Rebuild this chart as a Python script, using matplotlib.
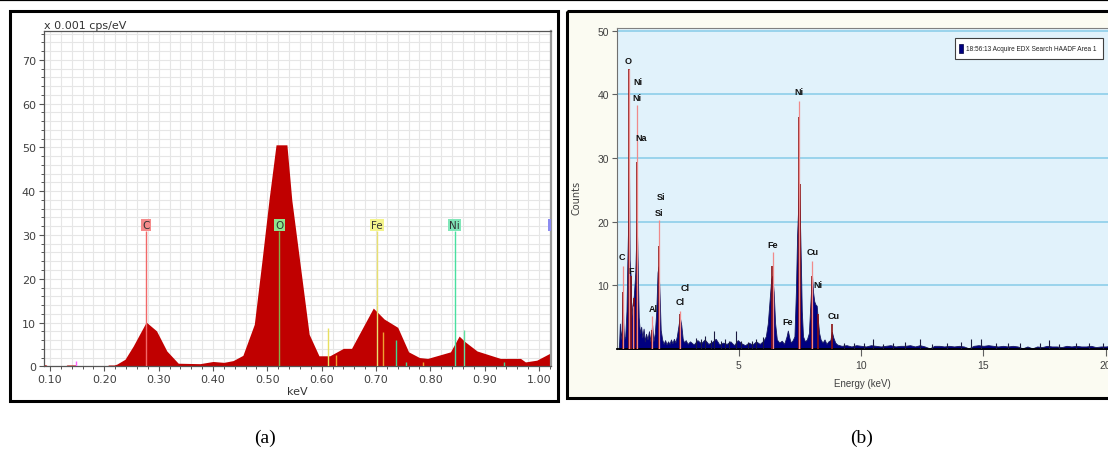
import matplotlib
matplotlib.use("Agg")
import matplotlib.pyplot as plt
from matplotlib.patches import Rectangle
from matplotlib.ticker import MultipleLocator

# ---------------- panel (a): low energy spectrum, x 0.001 cps/eV
a_kev = [0.088, 0.093, 0.096, 0.128, 0.131, 0.147, 0.150, 0.203, 0.208, 0.218,
         0.223, 0.238, 0.253, 0.277, 0.296, 0.315, 0.336, 0.376, 0.400, 0.420,
         0.437, 0.455, 0.476, 0.490, 0.503, 0.516, 0.536, 0.545, 0.577, 0.595,
         0.615, 0.640, 0.655, 0.695, 0.715, 0.740, 0.760, 0.780, 0.795, 0.837,
         0.853, 0.864, 0.886, 0.929, 0.966, 0.975, 0.996, 1.022]
a_cps = [0.4, 0.3, 0.0, 0.0, 0.3, 0.3, 0.0, 0.0, 0.3, 0.3,
         0.5, 1.6, 4.6, 10.1, 8.1, 3.5, 0.7, 0.6, 1.1, 0.9,
         1.3, 2.5, 9.6, 24.0, 38.0, 50.6, 50.6, 38.0, 7.3, 2.4,
         2.4, 4.1, 4.1, 13.3, 10.8, 8.9, 3.3, 2.0, 1.8, 3.3,
         6.9, 5.6, 3.5, 1.8, 1.8, 1.0, 1.4, 3.1]

a_elements = ["C", "O", "Fe", "Ni"]
a_element_kev = [0.277, 0.522, 0.702, 0.845]
a_box_colors = ["#f58a8a", "#8ee68e", "#f4f48c", "#80e6b8"]
a_line_colors = ["#f26868", "#86b04a", "#e8e070", "#48e0a0"]
a_label_cps = 31.0

a_minor_kev = [0.148, 0.612, 0.626, 0.713, 0.737, 0.755, 0.787, 0.862, 0.936]
a_minor_cps = [1.1, 8.7, 2.5, 7.8, 6.0, 1.0, 1.0, 8.3, 1.0]
a_minor_colors = ["#ff60ff", "#e8e060", "#f0a030", "#f0a030", "#40d890",
                  "#40d890", "#f0a030", "#60e0a0", "#40d890"]

a_xticks = [0.10, 0.20, 0.30, 0.40, 0.50, 0.60, 0.70, 0.80, 0.90, 1.00]
a_yticks = [0, 10, 20, 30, 40, 50, 60, 70]

# ---------------- panel (b): full EDX spectrum, counts
b_kev = [0.08, 0.10, 0.13, 0.16, 0.20, 0.245, 0.27, 0.30, 0.35, 0.40,
         0.43, 0.47, 0.50, 0.53, 0.57, 0.60, 0.64, 0.70, 0.76, 0.82,
         0.86, 0.90, 0.95, 1.00, 1.05, 1.10, 1.15, 1.20, 1.26, 1.32,
         1.38, 1.45, 1.50, 1.56, 1.62, 1.67, 1.71, 1.75, 1.80, 1.86,
         1.92, 1.98, 2.04, 2.10, 2.16, 2.22, 2.28, 2.34, 2.40, 2.46,
         2.52, 2.58, 2.64, 2.70, 2.76, 2.82, 2.90,
         3.00, 3.15, 3.30, 3.45, 3.60, 3.75, 3.90, 4.05, 4.20, 4.35,
         4.50, 4.65, 4.80, 4.95, 5.10, 5.25, 5.40, 5.55, 5.70, 5.85,
         6.00, 6.10, 6.18, 6.26, 6.32, 6.36, 6.42, 6.48, 6.55, 6.65,
         6.75, 6.85, 6.95, 7.00, 7.06, 7.12, 7.20, 7.27, 7.33, 7.38,
         7.42, 7.45, 7.49, 7.53, 7.57, 7.62, 7.70, 7.78, 7.86, 7.92,
         7.96, 7.99, 8.03, 8.08, 8.13, 8.18, 8.23, 8.28, 8.34, 8.42,
         8.50, 8.58, 8.66, 8.74, 8.80, 8.86, 8.94, 9.02,
         9.2, 9.4, 9.6, 9.8, 10.0, 10.2, 10.4, 10.6, 10.8, 11.0,
         11.2, 11.4, 11.6, 11.8, 12.0, 12.2, 12.4, 12.6, 12.8, 13.0,
         13.2, 13.4, 13.6, 13.8, 14.0, 14.2, 14.4, 14.6, 14.8, 15.0,
         15.2, 15.4, 15.6, 15.8, 16.0, 16.2, 16.4, 16.6, 16.8, 17.0,
         17.2, 17.4, 17.6, 17.8, 18.0, 18.2, 18.4, 18.6, 18.8, 19.0,
         19.2, 19.4, 19.6, 19.8, 20.0, 20.2, 20.5]
b_counts = [0.0, 1.0, 4.0, 1.5, 3.0, 9.0, 4.0, 1.5, 2.0, 6.0,
            12.6, 20.0, 31.0, 14.0, 11.5, 5.0, 6.8, 8.4, 12.0, 20.4,
            13.0, 5.0, 2.5, 3.5, 1.8, 3.2, 1.2, 2.4, 1.5, 2.8,
            1.2, 3.8, 1.2, 2.5, 6.0, 12.0, 13.0, 9.0, 3.0, 1.5,
            0.8, 1.4, 0.7, 1.2, 0.8, 1.5, 0.9, 1.6, 1.0, 2.0,
            3.5, 5.0, 3.8, 1.6, 1.0, 1.4, 0.8,
            1.2, 0.7, 1.4, 0.9, 1.5, 0.8, 1.1, 1.6, 0.7, 1.0,
            0.8, 1.2, 0.6, 1.4, 0.9, 0.6, 1.0, 0.7, 1.2, 0.8,
            1.3, 2.0, 4.0, 8.0, 11.0, 11.5, 9.0, 4.0, 1.5, 1.0,
            1.3, 0.8, 2.0, 2.9, 1.8, 1.0, 1.4, 2.0, 9.0, 18.0,
            22.0, 26.3, 21.0, 14.0, 6.0, 2.0, 1.2, 1.5, 2.5, 7.0,
            10.0, 11.5, 9.0, 7.5, 7.0, 6.8, 4.5, 2.5, 1.5, 1.0,
            1.5, 0.8, 1.2, 1.4, 2.7, 1.8, 1.0, 0.7,
            0.5, 0.6, 0.4, 0.6, 0.5, 0.4, 0.6, 0.5, 0.4, 0.5,
            0.6, 0.4, 0.5, 0.5, 0.6, 0.4, 0.6, 0.4, 0.1, 0.5,
            0.5, 0.4, 0.5, 0.4, 0.5, 0.4, 0.1, 0.5, 0.6, 0.5,
            0.6, 0.5, 0.4, 0.5, 0.4, 0.5, 0.4, 0.1, 0.4, 0.1,
            0.4, 0.3, 0.5, 0.4, 0.4, 0.3, 0.5, 0.4, 0.5, 0.4,
            0.4, 0.5, 0.3, 0.4, 0.4, 0.5, 0.4]

# noise spikes on the background
b_spike_kev = [3.26, 3.45, 3.60, 3.85, 4.00, 4.25, 4.45, 4.60, 4.90, 5.10,
               5.35, 5.55, 5.70, 5.97, 9.3, 9.7, 10.1, 10.5, 10.9, 11.3,
               11.8, 12.4, 12.9, 13.5, 14.1, 14.5, 14.9, 15.5, 16.0, 16.5,
               17.3, 17.7, 18.1, 18.8, 19.3, 19.9]
b_spike_counts = [1.8, 1.5, 2.0, 1.4, 2.9, 1.3, 1.6, 1.2, 2.9, 1.3,
                  1.1, 1.2, 1.6, 1.9, 1.0, 0.9, 1.0, 1.6, 0.8, 0.9,
                  1.1, 1.5, 0.8, 1.0, 1.1, 1.6, 1.5, 0.9, 1.0, 0.9,
                  1.0, 1.4, 0.8, 1.0, 0.9, 0.9]

# dark red channel lines
b_red_kev = [0.25, 0.50, 0.57, 0.70, 0.83, 1.45, 1.71, 2.58, 6.36, 7.44,
             7.50, 7.98, 8.25, 8.80]
b_red_counts = [9.0, 44.0, 11.5, 8.0, 29.4, 3.0, 16.2, 5.5, 13.1, 36.4,
                26.0, 11.5, 5.5, 3.9]

# pink element marker lines
b_mark_kev = [0.245, 0.50, 0.68, 0.82, 1.45, 1.71, 2.58, 6.39, 7.45, 7.98]
b_mark_counts = [13.1, 44.0, 6.8, 38.3, 5.2, 20.2, 6.0, 15.2, 39.0, 13.9]

b_labels = ["C", "O", "Ni", "Ni", "Na", "F", "Si", "Si", "Al", "Cl", "Cl",
            "Fe", "Fe", "Ni", "Cu", "Ni", "Cu"]
b_label_kev = [0.22, 0.46, 0.87, 0.83, 0.99, 0.58, 1.81, 1.73, 1.48, 2.79,
               2.58, 6.38, 6.99, 7.44, 8.00, 8.21, 8.87]
b_label_counts = [14.5, 45.3, 42.0, 39.5, 33.2, 12.4, 23.9, 21.5, 6.4, 9.7,
                  7.4, 16.4, 4.4, 40.4, 15.4, 10.2, 5.3]

b_xticks = [5, 10, 15, 20]
b_yticks = [10, 20, 30, 40, 50]
b_legend = "18:56:13 Acquire EDX Search HAADF Area 1"

SANS_B = ["Liberation Sans", "DejaVu Sans"]

fig = plt.figure(figsize=(11.08, 4.52), dpi=100)

# pixel-coordinate background and overlay layers
ax_bg = fig.add_axes([0, 0, 1, 1], zorder=0)
ax_bg.set_xlim(0, 1108)
ax_bg.set_ylim(452, 0)
ax_bg.axis("off")
ax_bg.add_patch(Rectangle((566, 12), 560, 387, fc="#fbfbf2", ec="none"))

ax_top = fig.add_axes([0, 0, 1, 1], zorder=10)
ax_top.set_xlim(0, 1108)
ax_top.set_ylim(452, 0)
ax_top.axis("off")
ax_top.patch.set_alpha(0)

# ---------------- panel (a)
ax_a = fig.add_axes([43.5 / 1108, 1 - 367.3 / 452, 507.5 / 1108, 335.3 / 452], zorder=2)
ax_a.set_xlim(0.088, 1.0221)
ax_a.set_ylim(0, 76.6)
ax_a.fill_between(a_kev, a_cps, 0, color="#c00000", lw=0, zorder=2)
ax_a.vlines(a_minor_kev, 0, a_minor_cps, colors=a_minor_colors, lw=1.0, zorder=3)
for name, kev, box, line in zip(a_elements, a_element_kev, a_box_colors, a_line_colors):
    ax_a.vlines(kev, 0, a_label_cps, colors=line, lw=1.0, zorder=3)
    ax_a.text(kev, a_label_cps + 1.3, name, ha="center", va="center", fontsize=7.5,
              color="#333333", zorder=4,
              bbox=dict(boxstyle="square,pad=0.12", fc=box, ec="none"))
# partly hidden label box at the right edge
ax_a.add_patch(Rectangle((1.0165, a_label_cps), 0.01, 2.7, fc="#8c8cf0", ec="none",
                         zorder=4, clip_on=True))

ax_a.set_xticks(a_xticks)
ax_a.set_xticklabels([f"{v:.2f}" for v in a_xticks])
ax_a.set_yticks(a_yticks)
ax_a.xaxis.set_minor_locator(MultipleLocator(0.02))
ax_a.yaxis.set_minor_locator(MultipleLocator(2))
ax_a.grid(which="both", color="#e6e6e6", lw=0.8, zorder=0)
ax_a.set_axisbelow(True)
ax_a.tick_params(which="major", length=3.5, width=0.8, color="#555555",
                 labelsize=8, labelcolor="#404040", pad=2)
ax_a.tick_params(which="minor", length=2, width=0.7, color="#555555")
for side in ["left", "bottom", "top"]:
    ax_a.spines[side].set_color("#555555")
    ax_a.spines[side].set_linewidth(0.9)
ax_a.spines["right"].set_color("#9a9a9a")
ax_a.spines["right"].set_linewidth(1.6)

ax_top.text(44, 26, "x 0.001 cps/eV", fontsize=8, color="#333333", va="center", ha="left")
ax_top.text(297, 392, "keV", fontsize=8, color="#333333", va="center", ha="center")

# ---------------- panel (b)
ax_b = fig.add_axes([616.7 / 1108, 1 - 350 / 452, 501.2 / 1108, 320.7 / 452], zorder=2)
ax_b.set_facecolor("#e1f2fb")
ax_b.set_xlim(0, 20.5)
ax_b.set_ylim(0, 50.4)
for y in b_yticks:
    ax_b.axhline(y, color="#86cbe8", lw=1.1, zorder=1)
ax_b.fill_between(b_kev, b_counts, 0, color="#000080", lw=0.6, edgecolor="#1a1a60", zorder=2)
ax_b.vlines(b_spike_kev, 0, b_spike_counts, colors="#1a1a40", lw=0.8, zorder=3)
ax_b.vlines(b_red_kev, 0, b_red_counts, colors="#8b1010", lw=1.2, zorder=3)
ax_b.vlines(b_mark_kev, 0, b_mark_counts, colors="#f08a8a", lw=0.9, zorder=3)
for name, kev, cnt in zip(b_labels, b_label_kev, b_label_counts):
    ax_b.text(kev, cnt, name, ha="center", va="center", fontsize=6.5, fontweight="bold",
              family=SANS_B, color="#111111", zorder=5)

ax_b.set_xticks(b_xticks)
ax_b.set_yticks(b_yticks)
ax_b.tick_params(axis="x", length=5, width=0.8, color="#606060", labelsize=7.5,
                 labelcolor="#404040", pad=3)
ax_b.tick_params(axis="y", length=3.5, width=0.8, color="#606060", labelsize=7.5,
                 labelcolor="#404040", pad=2)
for lab in ax_b.get_xticklabels() + ax_b.get_yticklabels():
    lab.set_family(SANS_B)
ax_b.spines["bottom"].set_color("black")
ax_b.spines["bottom"].set_linewidth(1.3)
ax_b.spines["left"].set_color("#707070")
ax_b.spines["left"].set_linewidth(0.8)
ax_b.spines["top"].set_color("#808080")
ax_b.spines["top"].set_linewidth(0.8)
ax_b.spines["right"].set_visible(False)

ax_top.text(576, 198, "Counts", rotation=90, fontsize=7, color="#404040",
            ha="center", va="center")
ax_top.text(862, 384, "Energy (keV)", fontsize=7, color="#404040", family=SANS_B,
            ha="center", va="center")

# legend box
ax_top.add_patch(Rectangle((955, 38.5), 148, 21, fc="white", ec="#404040", lw=0.8))
ax_top.add_patch(Rectangle((958.5, 44.5), 4.5, 9, fc="#000080", ec="#000040", lw=0.5))
ax_top.text(966, 49.5, b_legend, fontsize=4.7, family=SANS_B, color="#222222",
            ha="left", va="center")

# ---------------- frames and captions
ax_top.plot([0, 1108], [1, 1], color="black", lw=1.6)
ax_top.add_patch(Rectangle((9.5, 11.5), 548, 390, fill=False, ec="black", lw=2.2))
ax_top.add_patch(Rectangle((566.5, 11.5), 560, 387.5, fill=False, ec="black", lw=2.2))
ax_top.text(265, 438, "(a)", fontsize=14, family=["Liberation Serif", "DejaVu Serif"],
            ha="center", va="center", color="black")
ax_top.text(862, 438, "(b)", fontsize=14, family=["Liberation Serif", "DejaVu Serif"],
            ha="center", va="center", color="black")

fig.savefig("out.png", dpi=100)
